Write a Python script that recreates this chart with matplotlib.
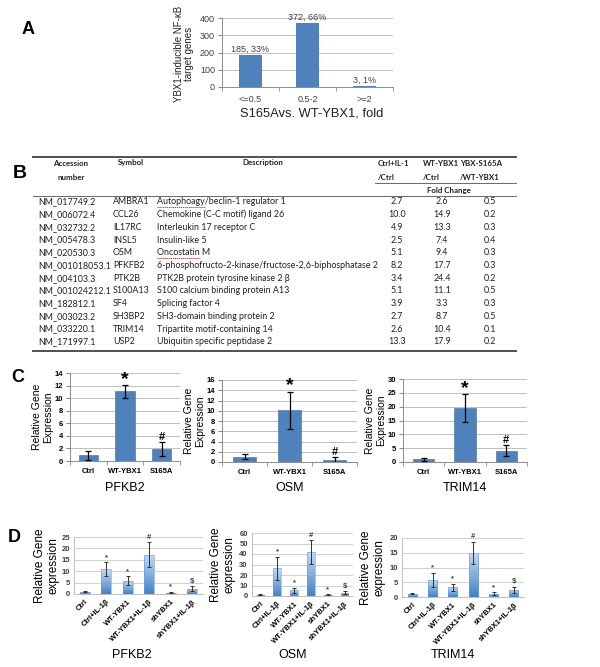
import numpy as np
import matplotlib
matplotlib.use("Agg")
import matplotlib.pyplot as plt
from matplotlib.colors import LinearSegmentedColormap

plt.rcParams['font.family'] = ['Liberation Sans', 'DejaVu Sans']

# ---------------- Panel A data ----------------
a_categories = ["<=0.5", "0.5-2", ">=2"]
a_counts = [185, 372, 3]
a_percents = [33, 66, 1]

# ---------------- Panel B table data ----------------
tbl_accession = ["NM_017749.2", "NM_006072.4", "NM_032732.2", "NM_005478.3", "NM_020530.3",
                 "NM_001018053.1", "NM_004103.3", "NM_001024212.1", "NM_182812.1", "NM_003023.2",
                 "NM_033220.1", "NM_171997.1"]
tbl_symbol = ["AMBRA1", "CCL26", "IL17RC", "INSL5", "OSM", "PFKFB2", "PTK2B", "S100A13", "SF4",
              "SH3BP2", "TRIM14", "USP2"]
tbl_description = ["Autophoagy/beclin-1 regulator 1", "Chemokine (C-C motif) ligand 26",
                   "Interleukin 17 receptor C", "Insulin-like 5", "Oncostatin M",
                   "6-phosphofructo-2-kinase/fructose-2,6-biphosphatase 2",
                   "PTK2B protein tyrosine kinase 2 \u03b2", "S100 calcium binding protein A13",
                   "Splicing factor 4", "SH3-domain binding protein 2",
                   "Tripartite motif-containing 14", "Ubiquitin specific peptidase 2"]
tbl_fc_il1 = ["2.7", "10.0", "4.9", "2.5", "5.1", "8.2", "3.4", "5.1", "3.9", "2.7", "2.6", "13.3"]
tbl_fc_wt = ["2.6", "14.9", "13.3", "7.4", "9.4", "17.7", "24.4", "11.1", "3.3", "8.7", "10.4", "17.9"]
tbl_fc_s165a = ["0.5", "0.2", "0.3", "0.4", "0.3", "0.3", "0.2", "0.5", "0.3", "0.5", "0.1", "0.2"]
spellcheck_words = ["Autophoagy", "Oncostatin"]

# ---------------- Panel C data ----------------
c_groups = ["Ctrl", "WT-YBX1", "S165A"]
c_genes = ["PFKB2", "OSM", "TRIM14"]
c_pfkb2_mean = [0.9, 11.1, 1.9]
c_pfkb2_err = [0.7, 1.0, 1.1]
c_osm_mean = [1.0, 10.1, 0.35]
c_osm_err = [0.5, 3.6, 0.7]
c_trim14_mean = [1.0, 19.4, 4.1]
c_trim14_err = [0.6, 5.0, 2.1]
c_marks = ["", "*", "#"]
c_ymax = [14, 16, 30]
c_ystep = [2, 2, 5]

# ---------------- Panel D data ----------------
d_groups = ["Ctrl", "Ctrl+IL-1\u03b2", "WT-YBX1", "WT-YBX1+IL-1\u03b2", "shYBX1", "shYBX1+IL-1\u03b2"]
d_genes = ["PFKB2", "OSM", "TRIM14"]
d_pfkb2_mean = [1.0, 10.9, 5.8, 17.3, 0.6, 2.3]
d_pfkb2_err = [0.2, 3.0, 2.0, 5.3, 0.3, 1.2]
d_osm_mean = [1.3, 26.3, 5.4, 41.7, 1.0, 3.2]
d_osm_err = [0.3, 11.0, 2.2, 11.5, 0.5, 1.5]
d_trim14_mean = [1.1, 5.8, 3.3, 15.0, 1.1, 2.4]
d_trim14_err = [0.2, 2.4, 1.1, 3.8, 0.5, 1.1]
d_marks = ["", "*", "*", "#", "*", "$"]
d_ymax = [25, 60, 20]
d_ystep = [5, 10, 5]

W, H = 600, 667
fig = plt.figure(figsize=(W / 100, H / 100), dpi=100)


def px_axes(x0, y0, x1, y1):
    return fig.add_axes([x0 / W, 1 - y1 / H, (x1 - x0) / W, (y1 - y0) / H])


# overlay in pixel coordinates for free text / table
ov = fig.add_axes([0, 0, 1, 1], zorder=-1)
ov.set_xlim(0, W)
ov.set_ylim(H, 0)
ov.axis('off')

BLUE = '#4f81bd'

# ================= Panel A =================
axA = px_axes(222, 18, 393, 87)
xa = np.arange(len(a_categories))
bA = axA.bar(xa, a_counts, width=0.4, color=BLUE, zorder=3)
axA.bar_label(bA, labels=[f"{c}, {p}%" for c, p in zip(a_counts, a_percents)],
              padding=1, fontsize=6.5, color='#404040')
axA.set_xlim(-0.5, len(a_categories) - 0.5)
axA.set_ylim(0, 400)
axA.set_yticks(np.arange(0, 401, 100))
axA.set_xticks(xa)
axA.set_xticklabels(a_categories)
axA.set_xticks(np.arange(-0.5, len(a_categories), 1), minor=True)
axA.tick_params(axis='x', which='major', length=0, labelsize=6.5, labelcolor='#404040', pad=6)
axA.tick_params(axis='x', which='minor', length=3, color='#8c8c8c')
axA.tick_params(axis='y', length=3, color='#8c8c8c', labelsize=6.5, labelcolor='#404040', pad=2)
axA.grid(axis='y', color='#bfbfbf', lw=0.7, zorder=0)
for s in ['top', 'right']:
    axA.spines[s].set_visible(False)
for s in ['left', 'bottom']:
    axA.spines[s].set_color('#8c8c8c')
    axA.spines[s].set_linewidth(0.7)
ov.text(28, 30, "A", fontsize=13, fontweight='bold', ha='center', va='center')
ov.text(184, 54, "YBX1-inducible NF-\u03baB\ntarget genes", rotation=90, fontsize=7,
        ha='center', va='center', linespacing=1.1, color='#202020')
ov.text(312, 114, "S165Avs. WT-YBX1, fold", fontsize=9.3, ha='center', va='center', color='#202020')

# ================= Panel B (table) =================
TF = ['Lato', 'DejaVu Sans']
tfs = 6.4
hfs = 5.7
ov.text(20, 174, "B", fontsize=14, fontweight='bold', ha='center', va='center')
ov.plot([33, 516], [157, 157], color='#505050', lw=1.4)
ov.plot([375, 516], [183, 183], color='#505050', lw=0.6)
ov.plot([33, 516], [196, 196], color='#505050', lw=0.6)
ov.plot([33, 516], [351, 351], color='#505050', lw=1.4)
hdr = dict(fontsize=hfs, fontweight='bold', family=TF, va='center', color='#202020')
ov.text(71, 163, "Accession", ha='center', **hdr)
ov.text(71, 177, "number", ha='center', **hdr)
ov.text(131, 163, "Symbol", ha='center', **hdr)
ov.text(263, 163, "Description", ha='center', **hdr)
for xl, l1, l2 in [(378, "Ctrl+IL-1", "/Ctrl"), (423, "WT-YBX1", "/Ctrl"), (460, "YBX-S165A", "/WT-YBX1")]:
    ov.text(xl, 163, l1, ha='left', **hdr)
    ov.text(xl, 177, l2, ha='left', **hdr)
ov.text(449, 190, "Fold Change", ha='center', **hdr)

row = dict(fontsize=tfs, family=TF, va='center', color='#202020')
fig.canvas.draw()
renderer = fig.canvas.get_renderer()
for i in range(len(tbl_accession)):
    y = 202 + 12.7 * i
    ov.text(38, y, tbl_accession[i], ha='left', **row)
    ov.text(113, y, tbl_symbol[i], ha='left', **row)
    ov.text(157, y, tbl_description[i], ha='left', **row)
    ov.text(397, y, tbl_fc_il1[i], ha='center', **row)
    ov.text(442, y, tbl_fc_wt[i], ha='center', **row)
    ov.text(490, y, tbl_fc_s165a[i], ha='center', **row)
    first = tbl_description[i].split('/')[0].split(' ')[0]
    if first in spellcheck_words:
        t = ov.text(157, y, first, ha='left', alpha=0, **row)
        bb = t.get_window_extent(renderer)
        x1 = 157 + bb.width
        ov.plot([157, x1], [y + 5, y + 5], color='#e02020', lw=0.7, ls=(0, (1.2, 0.8)))

# ================= Panel C =================
c_rects = [(70, 373, 180, 461), (222, 380, 357, 462), (403, 379, 527, 462)]
c_ylab_x = [43, 195, 376]
c_xlab_x = [125, 290, 465]
c_means = [c_pfkb2_mean, c_osm_mean, c_trim14_mean]
c_errs = [c_pfkb2_err, c_osm_err, c_trim14_err]
ov.text(18, 377, "C", fontsize=13, fontweight='bold', ha='center', va='center')
for k in range(3):
    ax = px_axes(*c_rects[k])
    xc = np.arange(len(c_groups))
    ax.bar(xc, c_means[k], width=0.52, color=BLUE, edgecolor='#3d6a9e', lw=0.4, zorder=3)
    ax.errorbar(xc, c_means[k], yerr=c_errs[k], fmt='none', ecolor='k', elinewidth=0.9,
                capsize=2, capthick=0.9, zorder=4)
    for xi, m, e, mk in zip(xc, c_means[k], c_errs[k], c_marks):
        if mk == "*":
            ax.annotate(mk, (xi, m + e), xytext=(0, -2), textcoords='offset points',
                        ha='center', va='bottom', fontsize=14, fontweight='bold')
        elif mk == "#":
            ax.annotate(mk, (xi, m + e), xytext=(0, 0), textcoords='offset points',
                        ha='center', va='bottom', fontsize=8, fontweight='bold')
    ax.set_xlim(-0.5, len(c_groups) - 0.5)
    ax.set_ylim(0, c_ymax[k])
    ax.set_yticks(np.arange(0, c_ymax[k] + 0.1, c_ystep[k]))
    ax.set_xticks(xc)
    ax.set_xticklabels(c_groups, fontweight='bold')
    ax.set_xticks(np.arange(-0.5, len(c_groups), 1), minor=True)
    ax.tick_params(axis='x', which='major', length=0, labelsize=5.5, pad=5)
    ax.tick_params(axis='x', which='minor', length=3, color='#8c8c8c')
    ax.tick_params(axis='y', length=3, color='#8c8c8c', labelsize=5.5, pad=2)
    for lab in ax.get_yticklabels():
        lab.set_fontweight('bold')
    ax.grid(axis='y', color='#bfbfbf', lw=0.7, zorder=0)
    for s in ['top', 'right']:
        ax.spines[s].set_visible(False)
    for s in ['left', 'bottom']:
        ax.spines[s].set_color('#8c8c8c')
        ax.spines[s].set_linewidth(0.7)
    cy = (c_rects[k][1] + c_rects[k][3]) / 2
    ov.text(c_ylab_x[k], cy, "Relative Gene\nExpression", rotation=90, fontsize=7.5,
            ha='center', va='center', linespacing=1.15)
    ov.text(c_xlab_x[k], 488, c_genes[k], fontsize=9, ha='center', va='center')

# ================= Panel D =================
d_rects = [(74, 537, 203, 594), (252, 533, 353, 596), (402, 538, 524, 597)]
d_ylab_x = [47, 223, 373]
d_xlab_x = [132, 293, 453]
d_means = [d_pfkb2_mean, d_osm_mean, d_trim14_mean]
d_errs = [d_pfkb2_err, d_osm_err, d_trim14_err]
grad_cmap = LinearSegmentedColormap.from_list('gr', ['#4682c8', '#c4dbf3'])
ov.text(14, 537, "D", fontsize=13, fontweight='bold', ha='center', va='center')
for k in range(3):
    ax = px_axes(*d_rects[k])
    xd = np.arange(len(d_groups))
    bars = ax.bar(xd, d_means[k], width=0.45, facecolor='none', edgecolor='#6a9bd6', lw=0.4, zorder=3)
    for b in bars:
        x0, y0, w, h = b.get_x(), b.get_y(), b.get_width(), b.get_height()
        im = ax.imshow(np.linspace(0, 1, 64).reshape(-1, 1), extent=[x0, x0 + w, y0, y0 + h],
                       origin='lower', aspect='auto', cmap=grad_cmap, zorder=2.5)
        im.set_clip_path(b)
    ax.errorbar(xd, d_means[k], yerr=d_errs[k], fmt='none', ecolor='#303030', elinewidth=0.7,
                capsize=1.5, capthick=0.7, zorder=4)
    for xi, m, e, mk in zip(xd, d_means[k], d_errs[k], d_marks):
        if mk:
            ax.annotate(mk, (xi, m + e), xytext=(0, 1), textcoords='offset points',
                        ha='center', va='bottom', fontsize=5.5, fontweight='bold', color='#404040')
    ax.set_xlim(-0.5, len(d_groups) - 0.5)
    ax.set_ylim(0, d_ymax[k])
    ax.set_yticks(np.arange(0, d_ymax[k] + 0.1, d_ystep[k]))
    ax.set_xticks(xd)
    ax.set_xticklabels(d_groups, rotation=45, ha='right', rotation_mode='anchor', fontweight='bold')
    ax.tick_params(axis='x', length=0, labelsize=5.5, pad=3)
    ax.tick_params(axis='y', length=0, labelsize=5.5, labelcolor='#404040', pad=3)
    for lab in ax.get_yticklabels():
        lab.set_fontweight('bold')
    ax.grid(axis='y', color='#d0d0d0', lw=0.7, zorder=0)
    for s in ['top', 'right']:
        ax.spines[s].set_visible(False)
    for s in ['left', 'bottom']:
        ax.spines[s].set_color('#bfbfbf')
        ax.spines[s].set_linewidth(0.7)
    cy = (d_rects[k][1] + d_rects[k][3]) / 2
    ov.text(d_ylab_x[k], cy, "Relative Gene\nexpression", rotation=90, fontsize=8.5,
            ha='center', va='center', linespacing=1.15)
    ov.text(d_xlab_x[k], 655, d_genes[k], fontsize=9, ha='center', va='center')

fig.savefig("out.png", dpi=100)
